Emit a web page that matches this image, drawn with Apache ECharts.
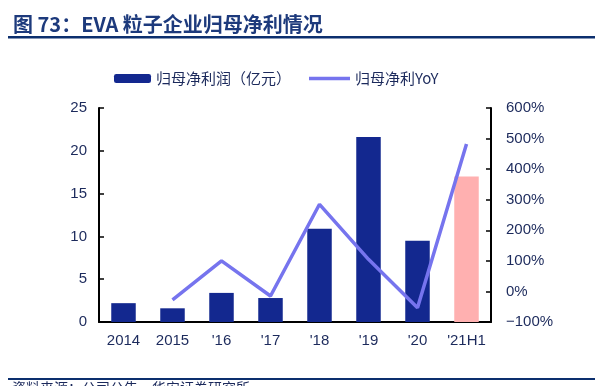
<!DOCTYPE html>
<html><head><meta charset="utf-8">
<script src="https://cdn.jsdelivr.net/npm/echarts@6/dist/echarts.min.js"></script>
<style>html,body{margin:0;padding:0;background:#fff}#c{width:600px;height:386px}</style>
</head><body><div id="c"></div>
<script>
var categories = ['2014', '2015', "'16", "'17", "'18", "'19", "'20", "'21H1"];
var profit = [2.2, 1.6, 3.4, 2.8, 10.9, 21.6, 9.5, 17.0];
var yoy = [null, -28, 100, -15, 285, 105, -53, 482];
var leftTicks = [0, 25, 5];
var rightTicks = [-100, 600, 100];
var profitName = '归母净利润（亿元）';
var yoyName = '归母净利YoY';

var navy = '#13288f', pink = '#ffb0b0', lineColor = '#7674ee', txt = '#1c2a5c';
var chart = echarts.init(document.getElementById('c'));
var barData = profit.map(function (v, i) {
  return i === profit.length - 1 ? { value: v, itemStyle: { color: pink } } : v;
});
chart.setOption({
  animation: false,
  title: {
    text: '图 73：EVA 粒子企业归母净利情况', left: 8, top: 9,
    textStyle: { fontFamily: 'Noto Sans CJK SC', fontSize: 20, fontWeight: 'bold', color: '#1d3a7c' }
  },
  graphic: [
    { type: 'rect', shape: { x: 8, y: 36, width: 587, height: 2.5 }, style: { fill: '#0c2f6e' } },
    { type: 'rect', shape: { x: 8, y: 378, width: 587, height: 2 }, style: { fill: '#0c2f6e' } },
    { type: 'text', left: 12, top: 381, style: { text: '资料来源：公司公告，华安证券研究所', font: '14px "Noto Sans CJK SC"', fill: txt } }
  ],
  legend: [
    { data: [profitName], left: 109, top: 66, itemWidth: 37, itemHeight: 9,
      textStyle: { fontFamily: 'Noto Sans CJK SC', fontSize: 15, color: txt } },
    { data: [{ name: yoyName, icon: 'rect' }], left: 304, top: 66, itemWidth: 41, itemHeight: 3.5,
      textStyle: { fontFamily: 'Noto Sans CJK SC', fontSize: 15, color: txt } }
  ],
  grid: { left: 99, right: 109, top: 108, bottom: 64 },
  xAxis: {
    type: 'category', data: categories,
    axisLine: { lineStyle: { color: '#000', width: 2 } },
    axisTick: { inside: true, length: 5, lineStyle: { color: '#000', width: 1.5 } },
    axisLabel: { interval: 0, fontFamily: 'Liberation Sans', fontSize: 15, color: txt, margin: 11 }
  },
  yAxis: [
    { type: 'value', min: leftTicks[0], max: leftTicks[1], interval: leftTicks[2],
      splitLine: { show: false },
      axisLine: { show: true, lineStyle: { color: '#000', width: 2 } },
      axisTick: { show: true, inside: true, length: 5, lineStyle: { color: '#000', width: 1.5 } },
      axisLabel: { fontFamily: 'Liberation Sans', fontSize: 15, color: txt, margin: 12 } },
    { type: 'value', min: rightTicks[0], max: rightTicks[1], interval: rightTicks[2],
      splitLine: { show: false },
      axisLine: { show: true, lineStyle: { color: '#000', width: 2 } },
      axisTick: { show: true, inside: true, length: 5, lineStyle: { color: '#000', width: 1.5 } },
      axisLabel: { fontFamily: 'Liberation Sans', fontSize: 15, color: txt, margin: 15,
        formatter: function (v) { return (v < 0 ? '\u2212' + (-v) : v) + '%'; } } }
  ],
  series: [
    { name: profitName, type: 'bar', data: barData, barWidth: '50%', itemStyle: { color: navy } },
    { name: yoyName, type: 'line', yAxisIndex: 1, data: yoy, symbol: 'none',
      lineStyle: { color: lineColor, width: 3.5 }, itemStyle: { color: lineColor } }
  ]
});
</script></body></html>
